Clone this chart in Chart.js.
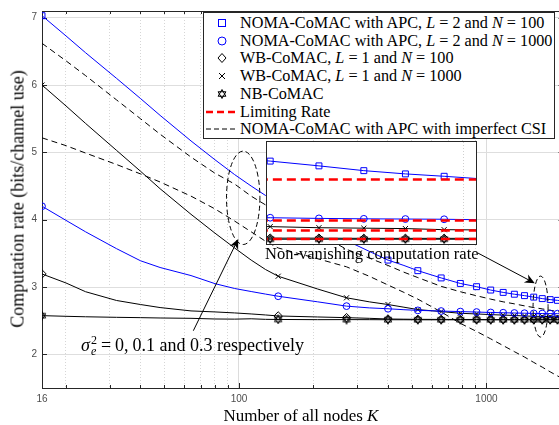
<!DOCTYPE html>
<html>
<head>
<meta charset="utf-8">
<title>Computation rate vs number of nodes</title>
<script src="https://cdn.jsdelivr.net/npm/chart.js@4.4.1/dist/chart.umd.min.js"></script>
<style>
  html, body { margin: 0; padding: 0; background: #fff; overflow: hidden; }
  #wrap { position: relative; width: 566px; height: 425px; }
  canvas { display: block; }
  #main { position: absolute; left: 0; top: 0; }
  .serif { position: absolute; font-family: "Liberation Serif", "DejaVu Serif", serif; color: #000; white-space: nowrap; }
  #ytitle { left: 18px; top: 199px; font-size: 18px; transform: translate(-50%, -50%) rotate(-90deg); }
  #xtitle { left: 301px; top: 416px; font-size: 17px; transform: translate(-50%, -50%); }
  #legend { left: 203px; top: 12px; width: 352px; height: 127px; box-sizing: border-box; border: 1px solid #262626; background: #fff; font-size: 16.2px; }
  .row { position: absolute; left: 0; width: 100%; height: 18px; line-height: 18px; }
  .row svg { position: absolute; left: 0; top: 0; }
  .row .t { position: absolute; left: 36px; top: 0; }
  #inset { position: absolute; left: 266px; top: 141px; width: 211px; height: 104px; box-sizing: border-box; border: 1px solid #262626; background: #fff; }
  #inset canvas { position: absolute; left: 0; top: 0; }
  #sigma { left: 81px; top: 335px; font-size: 18px; }
  #nonvan { left: 265px; top: 244px; font-size: 16.5px; }
  .ss { display: inline-block; vertical-align: -4px; line-height: 11px; font-size: 12px; margin: 0 4px 0 1px; }
  .ss span { display: block; }
  .sp { margin: 0 2px; }
</style>
</head>
<body>
<div id="wrap">
  <canvas id="main" width="566" height="425"></canvas>
  <div id="inset"><canvas id="zoom" width="209" height="102"></canvas></div>
  <div id="legend" class="serif"></div>
  <div id="ytitle" class="serif">Computation rate (bits/channel use)</div>
  <div id="xtitle" class="serif">Number of all nodes <i>K</i></div>
  <div id="sigma" class="serif"><i>σ</i><span class="ss"><span>2</span><span><i>e</i></span></span>=<span class="sp"></span>0,<span class="sp"></span>0.1 and 0.3 respectively</div>
  <div id="nonvan" class="serif">Non-vanishing computation rate</div>
</div>
<script>
// number of nodes K on the x axis
const kNodes = [16, 20, 24, 32, 40, 48, 64, 80, 96, 112, 128, 144, 208, 272, 336, 400, 464, 528,
  656, 784, 912, 1040, 1168, 1296, 1424, 1552, 1680, 1808, 1936, 2048];

// computation rate
const nomaN100 = [7.03, 6.73, 6.48, 6.10, 5.80, 5.55, 5.17, 4.89, 4.67, 4.50, 4.36, 4.25, 3.93, 3.69,
  3.53, 3.40, 3.32, 3.243, 3.135, 3.053, 3.005, 2.955, 2.92, 2.893, 2.872, 2.85, 2.828, 2.813, 2.802, 2.792];
const nomaN1000 = [4.20, 3.99, 3.82, 3.57, 3.39, 3.29, 3.17, 3.05, 2.978, 2.933, 2.895, 2.863, 2.78, 2.716,
  2.69, 2.677, 2.663, 2.653, 2.643, 2.635, 2.628, 2.622, 2.618, 2.614, 2.611, 2.608, 2.606, 2.605, 2.604, 2.602];
const wbN100 = [3.194, 3.06, 2.93, 2.80, 2.74, 2.695, 2.645, 2.63, 2.615, 2.60, 2.585, 2.57, 2.555, 2.545,
  2.535, 2.525, 2.522, 2.52, 2.519, 2.518, 2.518, 2.517, 2.517, 2.517, 2.517, 2.517, 2.516, 2.516, 2.516, 2.516];
const wbN1000 = [6.0, 5.69, 5.43, 5.03, 4.72, 4.46, 4.08, 3.80, 3.58, 3.40, 3.26, 3.16, 2.97, 2.84,
  2.78, 2.74, 2.70, 2.665, 2.635, 2.61, 2.60, 2.59, 2.583, 2.577, 2.570, 2.565, 2.563, 2.561, 2.556, 2.555];
const nbComac = [2.575, 2.565, 2.558, 2.55, 2.545, 2.54, 2.535, 2.525, 2.523, 2.528, 2.52, 2.518, 2.515, 2.516,
  2.515, 2.514, 2.514, 2.513, 2.513, 2.513, 2.513, 2.512, 2.512, 2.512, 2.512, 2.512, 2.512, 2.512, 2.512, 2.512];
const csiVar01 = [6.62, 6.36, 6.14, 5.78, 5.50, 5.27, 4.93, 4.69, 4.53, 4.35, 4.22, 4.13, 3.80, 3.56,
  3.43, 3.32, 3.22, 3.14, 3.01, 2.93, 2.87, 2.82, 2.78, 2.75, 2.72, 2.695, 2.675, 2.655, 2.635, 2.62];
const csiVar03 = [5.216, 5.10, 4.99, 4.82, 4.68, 4.56, 4.35, 4.16, 3.98, 3.82, 3.68, 3.58, 3.42, 3.30,
  3.16, 3.03, 2.92, 2.82, 2.63, 2.46, 2.34, 2.23, 2.13, 2.04, 1.96, 1.88, 1.81, 1.74, 1.68, 1.63];
const limitRates = [2.787, 2.598, 2.552, 2.513];

const xTickVals = [16, 20, 30, 40, 50, 60, 70, 80, 90, 100, 200, 300, 400, 500, 600, 700, 800, 900, 1000, 2000];
const xMajor = [100, 1000];
const xLabelVals = [16, 100, 1000];
const yTickVals = [2, 3, 4, 5, 6, 7];

const legendLabels = [
  'NOMA-CoMAC with APC, <i>L</i> = 2 and <i>N</i> = 100',
  'NOMA-CoMAC with APC, <i>L</i> = 2 and <i>N</i> = 1000',
  'WB-CoMAC, <i>L</i> = 1 and <i>N</i> = 100',
  'WB-CoMAC, <i>L</i> = 1 and <i>N</i> = 1000',
  'NB-CoMAC',
  'Limiting Rate',
  'NOMA-CoMAC with APC with imperfect CSI'
];

const BLUE = '#0000ff';
const BLACK = '#000000';
const RED = '#ff0000';

// markers sit on every 128th node count
const markerAt = k => (k - 16) % 128 === 0;

function hexagram(size, color) {
  const c = document.createElement('canvas');
  c.width = c.height = size;
  const g = c.getContext('2d');
  const r = size / 2 - 0.7;
  g.strokeStyle = color;
  g.lineWidth = 1;
  [0, Math.PI].forEach(off => {
    g.beginPath();
    for (let i = 0; i < 3; i++) {
      const a = off - Math.PI / 2 + i * 2 * Math.PI / 3;
      const px = size / 2 + r * Math.cos(a), py = size / 2 + r * Math.sin(a);
      if (i) g.lineTo(px, py); else g.moveTo(px, py);
    }
    g.closePath();
    g.stroke();
  });
  return c;
}
const star = hexagram(10, BLACK);

function lineSet(label, vals, color, style, radius, extra) {
  return Object.assign({
    label: label,
    data: kNodes.map((k, i) => ({ x: k, y: vals[i] })),
    borderColor: color,
    borderWidth: 1,
    pointStyle: style,
    pointRadius: c => (c.raw && markerAt(c.raw.x)) ? radius : 0,
    pointBorderColor: color,
    pointBackgroundColor: 'rgba(0,0,0,0)',
    pointBorderWidth: 1,
    tension: 0,
    fill: false,
    order: 1
  }, extra || {});
}

function markerSets() {
  return [
    lineSet('NOMA N=100', nomaN100, BLUE, 'rect', 4.2),
    lineSet('NOMA N=1000', nomaN1000, BLUE, 'circle', 3.4),
    lineSet('WB N=100', wbN100, BLACK, 'rectRot', 4.2),
    lineSet('WB N=1000', wbN1000, BLACK, 'crossRot', 3.6),
    lineSet('NB', nbComac, BLACK, star, 4)
  ];
}

// inward ticks and the closing box, MATLAB style
const frame = {
  id: 'frame',
  beforeDatasetsDraw(chart) {
    const { ctx, chartArea: a, scales: { x, y } } = chart;
    ctx.save();
    ctx.strokeStyle = '#262626';
    ctx.lineWidth = 1;
    ctx.beginPath();
    xTickVals.forEach(v => {
      const px = Math.round(x.getPixelForValue(v)) + 0.5;
      const len = xMajor.includes(v) ? 5 : 3;
      ctx.moveTo(px, a.bottom); ctx.lineTo(px, a.bottom - len);
      ctx.moveTo(px, a.top); ctx.lineTo(px, a.top + len);
    });
    yTickVals.forEach(v => {
      const py = Math.round(y.getPixelForValue(v)) + 0.5;
      ctx.moveTo(a.left, py); ctx.lineTo(a.left + 5, py);
      ctx.moveTo(a.right, py); ctx.lineTo(a.right - 5, py);
    });
    ctx.moveTo(a.left, a.top + 0.5); ctx.lineTo(a.right, a.top + 0.5);
    ctx.moveTo(a.right - 0.5, a.top); ctx.lineTo(a.right - 0.5, a.bottom);
    ctx.stroke();
    ctx.restore();
  }
};

// dashed ellipses and arrows, placed in data coordinates
const ellipses = [
  { k: 104, v: 4.325, rx: 16.7, ry: 46.7 },
  { k: 1654, v: 2.709, rx: 7.5, ry: 30.5 }
];
const arrows = [
  { from: [65.4, 2.351], to: [99.3, 3.715] },
  { from: [922, 3.506], to: [1567, 3.057] }
];

const annotate = {
  id: 'annotate',
  afterDatasetsDraw(chart) {
    const { ctx, scales: { x, y } } = chart;
    ctx.save();
    ctx.strokeStyle = BLACK;
    ctx.fillStyle = BLACK;
    ctx.lineWidth = 1;
    ctx.setLineDash([5, 3]);
    ellipses.forEach(e => {
      ctx.beginPath();
      ctx.ellipse(x.getPixelForValue(e.k), y.getPixelForValue(e.v), e.rx, e.ry, 0, 0, 2 * Math.PI);
      ctx.stroke();
    });
    ctx.setLineDash([]);
    arrows.forEach(ar => {
      const x0 = x.getPixelForValue(ar.from[0]), y0 = y.getPixelForValue(ar.from[1]);
      const x1 = x.getPixelForValue(ar.to[0]), y1 = y.getPixelForValue(ar.to[1]);
      const ang = Math.atan2(y1 - y0, x1 - x0);
      ctx.beginPath();
      ctx.moveTo(x0, y0);
      ctx.lineTo(x1 - 6 * Math.cos(ang), y1 - 6 * Math.sin(ang));
      ctx.stroke();
      const L = 10, W = 4.5, N = 7;
      ctx.save();
      ctx.translate(x1, y1);
      ctx.rotate(ang);
      ctx.beginPath();
      ctx.moveTo(0, 0);
      ctx.lineTo(-L, -W);
      ctx.lineTo(-N, 0);
      ctx.lineTo(-L, W);
      ctx.closePath();
      ctx.fill();
      ctx.restore();
    });
    ctx.restore();
  }
};

const tickFont = { family: '"Liberation Sans", Arial, sans-serif', size: 10 };

new Chart(document.getElementById('main'), {
  type: 'line',
  data: {
    datasets: markerSets().concat([
      lineSet('CSI 0.1', csiVar01, BLACK, 'circle', 0, { borderDash: [6, 4], order: 2 }),
      lineSet('CSI 0.3', csiVar03, BLACK, 'circle', 0, { borderDash: [6, 4], order: 2 })
    ])
  },
  options: {
    responsive: false,
    animation: false,
    events: [],
    layout: { autoPadding: false, padding: { top: 6, right: 2, left: 0, bottom: 0 } },
    plugins: { legend: { display: false }, tooltip: { enabled: false } },
    scales: {
      x: {
        type: 'logarithmic',
        min: 16,
        max: 2048,
        afterBuildTicks: s => { s.ticks = xTickVals.map(v => ({ value: v })); },
        afterFit: s => { s.height = 37; },
        ticks: {
          autoSkip: false, maxRotation: 0, padding: 5, color: '#4d4d4d', font: tickFont,
          callback: v => xLabelVals.includes(v) ? String(v) : ''
        },
        grid: {
          drawTicks: false,
          lineWidth: 1,
          color: c => {
            const v = c.tick ? c.tick.value : 0;
            if (v === 16) return 'rgba(0,0,0,0)';
            return xMajor.includes(v) ? '#dcdcdc' : '#d6d6d6';
          }
        },
        border: {
          color: '#262626', width: 1,
          dash: c => (c.tick && !xMajor.includes(c.tick.value)) ? [1, 2] : []
        }
      },
      y: {
        min: 1.5,
        max: 7.1,
        afterBuildTicks: s => { s.ticks = yTickVals.map(v => ({ value: v })); },
        afterFit: s => { s.width = 42; },
        ticks: { padding: 5, color: '#4d4d4d', font: tickFont },
        grid: { drawTicks: false, color: '#dedede', lineWidth: 1 },
        border: { color: '#262626', width: 1 }
      }
    }
  },
  plugins: [frame, annotate]
});

// zoomed inset near the largest K
const insetGrid = {
  id: 'insetGrid',
  beforeDatasetsDraw(chart) {
    const { ctx, chartArea: a, scales: { x } } = chart;
    ctx.save();
    ctx.strokeStyle = '#cfcfcf';
    ctx.setLineDash([1, 2]);
    xTickVals.filter(v => v > x.min && v < x.max).forEach(v => {
      const px = Math.round(x.getPixelForValue(v)) + 0.5;
      ctx.beginPath();
      ctx.moveTo(px, a.top);
      ctx.lineTo(px, a.bottom);
      ctx.stroke();
    });
    ctx.restore();
  }
};

new Chart(document.getElementById('zoom'), {
  type: 'line',
  data: {
    datasets: limitRates.map(r => ({
      label: 'Limiting Rate',
      data: kNodes.map(k => ({ x: k, y: r })),
      borderColor: RED,
      borderWidth: 2.5,
      borderDash: [9, 5],
      pointRadius: 0,
      order: 0
    })).concat(markerSets())
  },
  options: {
    responsive: false,
    animation: false,
    events: [],
    layout: { autoPadding: false, padding: 0 },
    plugins: { legend: { display: false }, tooltip: { enabled: false } },
    scales: {
      x: { type: 'logarithmic', min: 1416, max: 2048, display: false },
      y: { min: 2.49, max: 2.96, display: false }
    }
  },
  plugins: [insetGrid]
});

// legend box
const legendSymbols = [
  '<rect x="14.5" y="5.5" width="7" height="7" fill="none" stroke="' + BLUE + '"/>',
  '<circle cx="18" cy="9" r="4" fill="none" stroke="' + BLUE + '"/>',
  '<polygon points="18,4.5 22,9 18,13.5 14,9" fill="none" stroke="#000"/>',
  '<path d="M15,6 L21,12 M21,6 L15,12" stroke="#000"/>',
  '<polygon points="18,4.5 21.9,11.25 14.1,11.25" fill="none" stroke="#000"/><polygon points="18,13.5 21.9,6.75 14.1,6.75" fill="none" stroke="#000"/>',
  '<line x1="2" y1="9" x2="33" y2="9" stroke="' + RED + '" stroke-width="2.5" stroke-dasharray="7 4"/>',
  '<line x1="2" y1="9" x2="33" y2="9" stroke="#000" stroke-width="1" stroke-dasharray="5 3"/>'
];
const legend = document.getElementById('legend');
legendLabels.forEach((txt, i) => {
  const row = document.createElement('div');
  row.className = 'row';
  row.style.top = (1 + i * 17.7) + 'px';
  row.innerHTML = '<svg width="36" height="18">' + legendSymbols[i] + '</svg><span class="t">' + txt + '</span>';
  legend.appendChild(row);
});
</script>
</body>
</html>
